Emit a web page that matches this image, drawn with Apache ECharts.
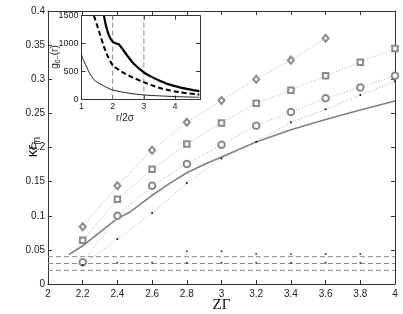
<!DOCTYPE html>
<html><head><meta charset="utf-8">
<script src="https://cdn.jsdelivr.net/npm/echarts@6/dist/echarts.min.js"></script>
<style>html,body{margin:0;padding:0;background:#fff}#c{width:403px;height:314px}</style>
</head><body><div id="c"></div>
<script>
// ---- main plot data ----
const xTicks = [2, 2.2, 2.4, 2.6, 2.8, 3, 3.2, 3.4, 3.6, 3.8, 4];
const diamondX = [2.2, 2.4, 2.6, 2.8, 3.0, 3.2, 3.4, 3.6];
const diamondY = [0.084, 0.144, 0.196, 0.237, 0.269, 0.300, 0.328, 0.360];
const squareX = [2.2, 2.4, 2.6, 2.8, 3.0, 3.2, 3.4, 3.6, 3.8, 4.0];
const squareY = [0.064, 0.124, 0.168, 0.205, 0.236, 0.265, 0.284, 0.305, 0.325, 0.345];
const circleX = [2.2, 2.4, 2.6, 2.8, 3.0, 3.2, 3.4, 3.6, 3.8, 4.0];
const circleY = [0.032, 0.100, 0.144, 0.176, 0.204, 0.232, 0.252, 0.272, 0.288, 0.305];
const dotX = [2.2, 2.4, 2.6, 2.8, 3.0, 3.2, 3.4, 3.6, 3.8, 4.0];
const dotY = [0.028, 0.066, 0.104, 0.148, 0.184, 0.2085, 0.237, 0.256, 0.277, 0.297];
const solidX = [2.12, 2.2, 2.3, 2.4, 2.47, 2.6, 2.7, 2.8, 2.9, 3.0, 3.2, 3.4, 3.6, 3.8, 4.0];
const solidY = [0.043, 0.056, 0.076, 0.096, 0.105, 0.130, 0.147, 0.163, 0.175, 0.186, 0.208, 0.226, 0.241, 0.255, 0.268];
const lowAX = [2.4, 2.6, 2.8, 3.0, 3.2, 3.4, 3.6, 3.8];
const lowAY = [0.031, 0.031, 0.031, 0.031, 0.031, 0.031, 0.031, 0.031];
const lowBX = [2.8, 3.0, 3.2, 3.4, 3.6, 3.8];
const lowBY = [0.048, 0.048, 0.044, 0.044, 0.044, 0.044];
const dashLevels = [0.04, 0.03, 0.02];
// ---- inset data ----
const thickR = [1.72, 1.80, 1.90, 2.0, 2.1, 2.2, 2.3, 2.45, 2.66, 3.0, 3.25, 3.51, 3.8, 4.15, 4.5, 4.78];
const thickG = [1500, 1290, 1120, 1035, 1005, 985, 915, 800, 650, 487, 405, 337, 270, 218, 178, 150];
const dashR = [1.40, 1.5, 1.59, 1.7, 1.81, 2.0, 2.2, 2.34, 2.6, 3.0, 3.3, 3.61, 4.15, 4.78];
const dashG = [1500, 1330, 1172, 980, 814, 615, 530, 480, 405, 310, 245, 190, 130, 88];
const thinR = [1.0, 1.08, 1.17, 1.27, 1.38, 1.5, 1.7, 2.0, 2.5, 3.0, 3.5, 4.0, 4.78];
const thinG = [802, 680, 576, 460, 367, 310, 247, 170, 115, 81, 65, 52, 39];
const insetVLines = [2, 3];

const zip = (a, b) => a.map((v, i) => [v, b[i]]);
const FONT = 'Liberation Sans';
const AX = '#333';

function axisBase(extra) {
  return Object.assign({
    type: 'value',
    axisLine: { show: true, onZero: false, lineStyle: { color: AX, width: 1 } },
    axisTick: { show: true, inside: true, length: 4, lineStyle: { color: AX } },
    splitLine: { show: false },
  }, extra);
}

const series = [];
dashLevels.forEach(l => series.push({
  type: 'line', xAxisIndex: 0, yAxisIndex: 0, data: [[2, l], [4, l]], symbol: 'none',
  lineStyle: { color: '#8a8a8a', width: 1, type: [5, 3] }, silent: true
}));
series.push({ type: 'line', xAxisIndex: 0, yAxisIndex: 0, data: zip(solidX, solidY), symbol: 'none',
  lineStyle: { color: '#808080', width: 1.6 } });
const dotted = { color: '#b0b0b0', width: 1, type: [1, 2] };
const mk = { color: '#8a8a8a', borderWidth: 0.6 };
series.push({ type: 'line', xAxisIndex: 0, yAxisIndex: 0, data: zip(diamondX, diamondY),
  symbol: 'emptyDiamond', symbolSize: [6, 7], itemStyle: mk, lineStyle: dotted });
series.push({ type: 'line', xAxisIndex: 0, yAxisIndex: 0, data: zip(squareX, squareY),
  symbol: 'emptyRect', symbolSize: 5.5, itemStyle: mk, lineStyle: dotted });
series.push({ type: 'line', xAxisIndex: 0, yAxisIndex: 0, data: zip(circleX, circleY),
  symbol: 'emptyCircle', symbolSize: 6.5, itemStyle: mk, lineStyle: dotted });
series.push({ type: 'line', xAxisIndex: 0, yAxisIndex: 0, data: zip(dotX, dotY),
  symbol: 'circle', symbolSize: 2, itemStyle: { color: '#111' }, lineStyle: dotted });
series.push({ type: 'scatter', xAxisIndex: 0, yAxisIndex: 0, data: zip(lowAX, lowAY),
  symbol: 'circle', symbolSize: 2, itemStyle: { color: '#111' } });
series.push({ type: 'scatter', xAxisIndex: 0, yAxisIndex: 0, data: zip(lowBX, lowBY),
  symbol: 'circle', symbolSize: 2, itemStyle: { color: '#111' } });
insetVLines.forEach(v => series.push({
  type: 'line', xAxisIndex: 2, yAxisIndex: 2, data: [[v, 0], [v, 1500]], symbol: 'none',
  lineStyle: { color: '#8a8a8a', width: 1, type: [5, 3] }, silent: true
}));
series.push({ type: 'line', xAxisIndex: 2, yAxisIndex: 2, data: zip(thinR, thinG), symbol: 'none', smooth: 0.3,
  lineStyle: { color: '#222', width: 1 } });
series.push({ type: 'line', xAxisIndex: 2, yAxisIndex: 2, data: zip(dashR, dashG), symbol: 'none', smooth: 0.3,
  lineStyle: { color: '#000', width: 2, type: [5, 3] } });
series.push({ type: 'line', xAxisIndex: 2, yAxisIndex: 2, data: zip(thickR, thickG), symbol: 'none', smooth: 0.3,
  lineStyle: { color: '#000', width: 2.2 } });

const lbl = { fontFamily: FONT, fontSize: 10, color: '#222' };
const ilbl = { fontFamily: FONT, fontSize: 9, color: '#222' };

const option = {
  animation: false,
  backgroundColor: '#fff',
  grid: [
    { left: 48, right: 8, top: 11, bottom: 30 },
    { left: 81.5, top: 15.7, width: 118.5, height: 83.8, show: true, backgroundColor: '#fff', borderWidth: 0, z: 5 }
  ],
  xAxis: [
    axisBase({ gridIndex: 0, min: 2, max: 4, interval: 0.2, position: 'bottom',
      axisLabel: Object.assign({ margin: 5 }, lbl) }),
    axisBase({ gridIndex: 0, min: 2, max: 4, interval: 0.2, position: 'top', axisLabel: { show: false } }),
    axisBase({ gridIndex: 1, min: 1, max: 4.8, interval: 1, position: 'bottom', z: 6,
      axisLabel: Object.assign({ margin: 3, showMaxLabel: false,
        formatter: v => (Math.abs(v - Math.round(v)) < 1e-9 ? String(v) : '') }, ilbl) }),
    axisBase({ gridIndex: 1, min: 1, max: 4.8, interval: 1, position: 'top', z: 6, axisLabel: { show: false } })
  ],
  yAxis: [
    axisBase({ gridIndex: 0, min: 0, max: 0.4, interval: 0.05, position: 'left',
      axisLabel: Object.assign({ margin: 3 }, lbl) }),
    axisBase({ gridIndex: 0, min: 0, max: 0.4, interval: 0.05, position: 'right', axisLabel: { show: false } }),
    axisBase({ gridIndex: 1, min: 0, max: 1500, interval: 500, position: 'left', z: 6,
      axisLabel: Object.assign({ margin: 3, formatter: v => String(v) }, ilbl) }),
    axisBase({ gridIndex: 1, min: 0, max: 1500, interval: 500, position: 'right', z: 6, axisLabel: { show: false } })
  ],
  series: series.map(s => Object.assign({ z: s.xAxisIndex === 2 ? 7 : 2 }, s)),
  graphic: [
    { type: 'text', x: 33, y: 147, rotation: Math.PI / 2, z: 100,
      style: { text: '{a|κr}{b|in}', textAlign: 'center', textVerticalAlign: 'middle',
        rich: { a: { fontFamily: FONT, fontSize: 15, fill: '#111' },
                b: { fontFamily: FONT, fontSize: 10, fill: '#111', padding: [9, 0, 0, 0] } } } },
    { type: 'text', x: 221.5, y: 305, z: 100,
      style: { text: 'ZΓ', fontFamily: 'Liberation Serif', fontSize: 15, fill: '#111',
        textAlign: 'center', textVerticalAlign: 'middle' } },
    { type: 'text', x: 125, y: 118.5, z: 100,
      style: { text: 'r/2σ', fontFamily: FONT, fontSize: 10, fill: '#222',
        textAlign: 'center', textVerticalAlign: 'middle' } },
    { type: 'text', x: 55, y: 57, rotation: Math.PI / 2, z: 100,
      style: { text: '{a|g}{b|0−}{a|(r)}', textAlign: 'center', textVerticalAlign: 'middle',
        rich: { a: { fontFamily: FONT, fontSize: 10, fill: '#222' },
                b: { fontFamily: FONT, fontSize: 7, fill: '#222', padding: [6, 0, 0, 0] } } } }
  ]
};
echarts.init(document.getElementById('c')).setOption(option);
</script></body></html>
